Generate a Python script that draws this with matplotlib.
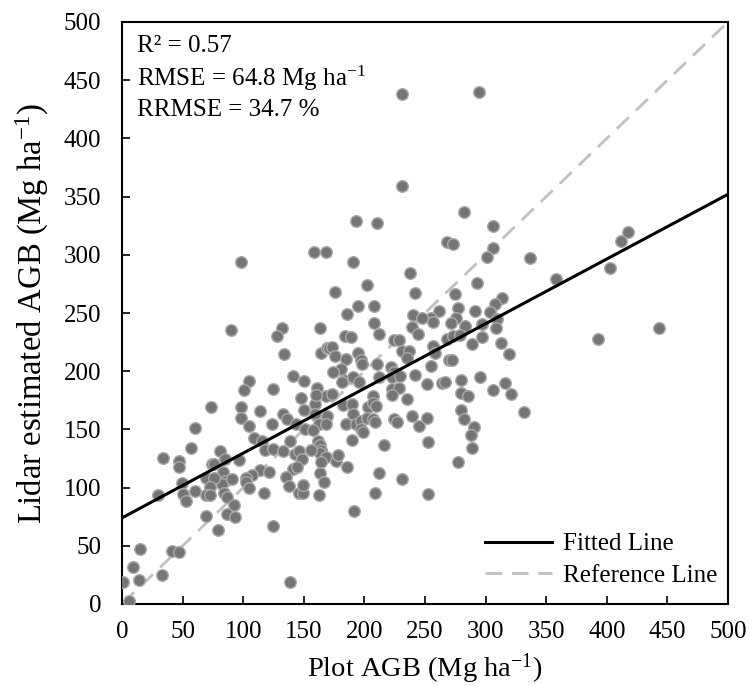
import matplotlib
matplotlib.use("Agg")
import matplotlib.pyplot as plt
import numpy as np

plot_agb = [231.4, 231.4, 294.3, 98.4, 158.3, 168.5, 90.3, 131.9, 127.9, 163.4, 134, 164.4, 169.5, 141.1, 150.2, 104.5, 100.5, 124.8, 160.8, 147.7,
            168.5, 282.1, 306.5, 192.8, 210.1, 267.9, 273, 306.5, 301.4, 190.3, 237.5, 293.3, 201.9, 175.6, 241.5, 275, 313.6, 308, 194.8, 208,
            277, 291.2, 303.4, 261.3, 185.7, 240.5, 254.7, 247.6, 256.7, 275.5, 271.5, 208, 309.5, 283.1, 308.5, 297.3, 239.5, 212.1, 244.2, 183.7,
            188.8, 267.9, 273, 278.6, 224.3, 228.3, 297, 288.7, 313, 319.7, 170.5, 173.5, 175.6, 194.8, 231.4, 236.4, 234.8, 256.7, 258.5, 269.7,
            272, 185.1, 197.2, 197.9, 210.1, 254.7, 180.6, 174.5, 222.2, 224.7, 183.4, 181.6, 190.8, 195.9, 211.8, 223.1, 229.3, 242, 251.7, 263.8,
            266.7, 279.7, 295.6, 315.6, 306.5, 320.7, 173, 207, 222.7, 228.3, 222.7, 280.1, 285.7, 235.4, 73.1, 98.4, 97.9, 113.7,
            132.5, 136, 150.2, 159, 159.3, 104.5, 123.5, 143.6, 169.2, 162.8, 168.5, 59.9, 108.6, 115.7, 139, 151.2, 157.3, 162,
            163.4, 164.4, 163.4, 156.3, 168.5, 164.4, 163.4, 166.4, 162.4, 56.8, 33.5, 46.7, 46.7, 81.2, 85.2, 74.1, 76.1, 96.4, 117.7, 124.3,
            132.9, 143.1, 145.7, 148.8, 141.1, 144.4, 135.3, 138, 146.1, 149.2, 149.2, 114.1, 121.1, 107.3, 102.3, 102.1, 105, 117.1, 83.2, 85.2,
            82.5, 91, 69.3, 76.1, 72.4, 69, 72.4, 60.2, 49.7, 50, 52.8, 29.9, 84.2, 86.7, 92.1, 86.9, 93, 69.3, 79, 124.3,
            15.2, 41, 47.3, 9.1, 32.8, 14.2, 1, 5.8, 139, 160.3, 182.7, 189.8, 190.8, 184.7, 192.8, 196.9, 196.9, 198.9, 203, 207,
            209.6, 201.9, 207, 208.7, 224.7, 227.3, 239.5, 245.1, 251.4, 252.2, 216.2, 189.5, 176.6, 178.6, 185.7, 212.1, 231.4, 208.7, 252.5, 191.2,
            277.4, 280.1, 282.1, 290.2, 287.9, 288.7, 336.9, 358.2, 402.9, 412, 417.7, 443.1, 392.4, 331.5]
lidar_agb = [438, 359, 440, 294, 302, 302, 235, 237, 230, 237, 215, 216, 220, 196, 192, 192, 184, 185, 185.5, 177,
             179, 336.5, 325, 329, 327, 311, 309, 306, 298, 294, 284, 276, 274, 268, 267, 266, 263, 257.5, 256, 256,
             254, 252, 251, 252, 249, 248, 246, 246, 242.5, 246, 241, 241, 245, 239, 237, 240.5, 238, 232, 232, 230,
             229.6, 228, 230.5, 231, 226.5, 227, 229.6, 223, 224, 215, 219.6, 220.5, 213, 216, 217, 217, 211.7, 222, 215.3, 210,
             210, 210.7, 209.4, 206.4, 206.4, 204.7, 202, 199.6, 204, 199.6, 192.2, 190.5, 194.7, 190.5, 194.7, 194.7, 196, 196.7, 189, 190,
             190.7, 192.2, 195.3, 190, 183.8, 180.7, 180.7, 178.7, 184.4, 185.3, 179.5, 181.7, 178.7, 176, 169.5, 169.5, 159.5, 166,
             163, 159, 167, 171.8, 163, 153, 155, 154.6, 161.7, 155, 154.6, 151.5, 143, 140, 140, 150, 149.5, 140,
             136.6, 132, 129.4, 132.3, 126.6, 122.3, 112.3, 104.5, 94, 133.7, 125.7, 122.8, 117.7, 131.7, 124.6, 120.3, 120, 123.7, 132.3, 133,
             131.4, 129, 131.2, 124.8, 115.7, 117.4, 109.4, 101.4, 95, 95, 102, 115, 113, 110.8, 108.2, 104.5, 99.4, 95, 113, 106,
             103, 107, 108, 108, 100.8, 94, 94, 97, 104, 94.5, 88.7, 94, 95, 92, 84.8, 77.3, 75, 76, 63.3, 67.3,
             47.5, 45.8, 45, 31.5, 24.7, 20.6, 19, 2.6, 19, 179.5, 171, 172, 163, 155, 155, 157, 150, 148, 169.5, 173,
             170, 159.5, 158.6, 156.6, 158.6, 156.6, 161.7, 153, 159.5, 139, 136.6, 140.6, 123, 128, 117.4, 112.3, 107, 95.6, 94.8, 80,
             122, 167, 158.6, 152.4, 145, 134.4, 297.6, 279, 289, 312, 320, 237.5, 227.6, 165]

fit_intercept = 74.0
fit_slope = 0.556
axis_range = [0, 500]
ticks = [0, 50, 100, 150, 200, 250, 300, 350, 400, 450, 500]
stats_text = "R\u00b2 = 0.57\nRMSE = 64.8 Mg ha$^{\\mathregular{-1}}$\nRRMSE = 34.7 %"

plt.rcParams['font.family'] = ['Liberation Serif', 'DejaVu Serif']
plt.rcParams['mathtext.fontset'] = 'custom'
plt.rcParams['mathtext.rm'] = 'Liberation Serif'
plt.rcParams['mathtext.it'] = 'Liberation Serif:italic'

fig = plt.figure(figsize=(7.49, 6.86), dpi=100)
ax = fig.add_axes([122 / 749, 82 / 686, 606 / 749, 582 / 686])

ax.scatter(plot_agb, lidar_agb, s=70, color='#757575', edgecolors='#aaaaaa', linewidths=1.0, zorder=3)

xs = np.array(axis_range, dtype=float)
ax.plot(xs, fit_intercept + fit_slope * xs, color='black', lw=2.2, label='Fitted Line', zorder=4)
ax.plot(xs, xs, color='#c0c0c0', lw=2, ls=(0, (6, 3.5)), label='Reference Line', zorder=2)

ax.set_xlim(axis_range)
ax.set_ylim(axis_range)
ax.set_xticks(ticks)
ax.set_yticks(ticks)
ax.tick_params(direction='in', length=6, width=1.2, labelsize=18, top=False, right=False)
ax.tick_params(axis='x', pad=12)
ax.tick_params(axis='y', pad=15)
for sp in ax.spines.values():
    sp.set_linewidth(1.5)

ax.set_xlabel('Plot AGB (Mg ha$^{\\mathregular{-1}}$)', fontsize=20.5, labelpad=6)
ax.set_ylabel('Lidar estimated AGB (Mg ha$^{\\mathregular{-1}}$)', fontsize=23.5, labelpad=9)

ax.text(0.024, 0.978, stats_text, transform=ax.transAxes, fontsize=18, va='top', ha='left', linespacing=1.32)

leg = ax.legend(loc='lower right', bbox_to_anchor=(1.012, 0.0), frameon=False, fontsize=18,
                handlelength=2.7, borderaxespad=0.3, handletextpad=0.45, labelspacing=0.35)

fig.savefig('out.png', dpi=100)
